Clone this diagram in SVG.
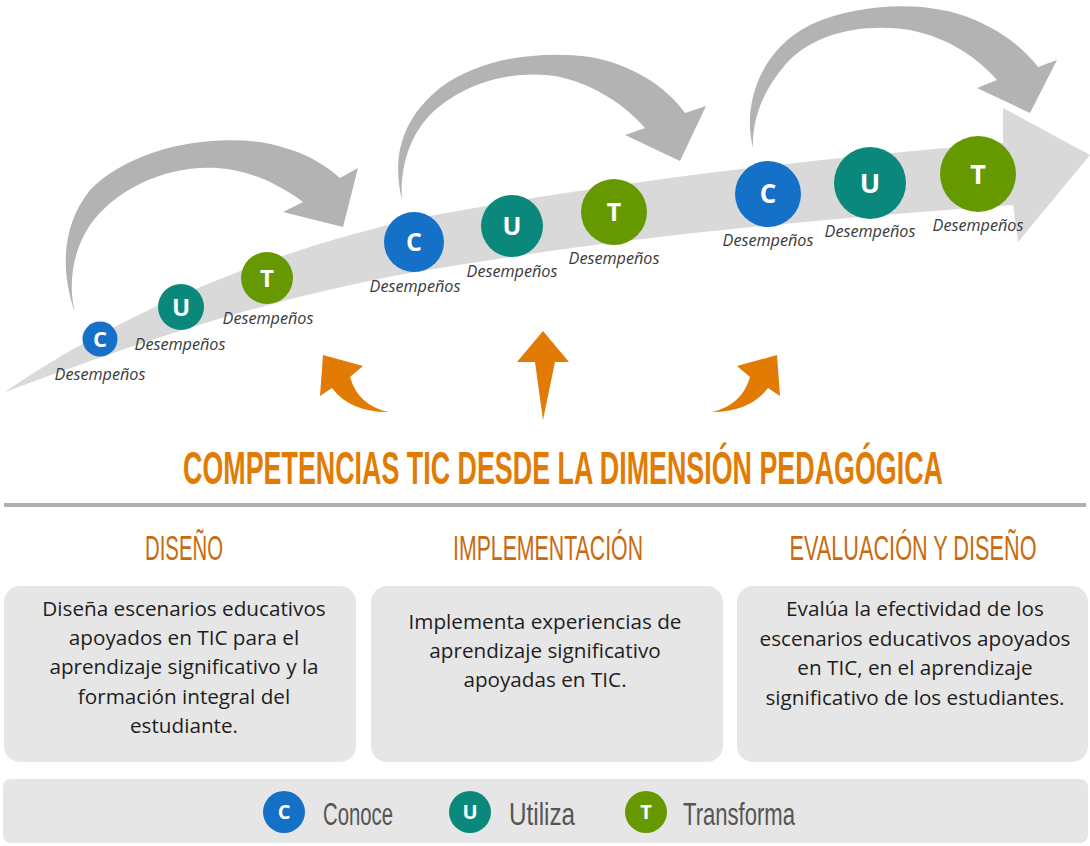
<svg xmlns="http://www.w3.org/2000/svg" width="1090" height="846" viewBox="0 0 1090 846">
<style>
.band{fill:#d9d9d9}
.garrow{fill:#b3b3b3}
.oarrow{fill:#e27b03}
.cC{fill:#1570c8}
.cU{fill:#0a887c}
.cT{fill:#669900}
.lt{font-family:"Open Sans","Liberation Sans",sans-serif;font-weight:bold;fill:#fff;text-anchor:middle}
.des{font-family:"Open Sans","Liberation Sans",sans-serif;font-style:italic;font-size:16.2px;fill:#3a3a3a;text-anchor:middle}
.title{font-family:"Liberation Sans Narrow","Liberation Sans",sans-serif;font-weight:bold;font-size:47px;fill:#e27b03}
.head{font-family:"Liberation Sans Narrow","Liberation Sans",sans-serif;font-size:35px;fill:#c96a10;text-anchor:middle}
.box{fill:#e6e6e6}
.bt{font-family:"Open Sans","Liberation Sans",sans-serif;font-size:20.7px;fill:#1e1e1e;text-anchor:middle}
.leg{font-family:"Liberation Sans Narrow","Liberation Sans",sans-serif;font-size:31px;fill:#555}
</style>
<rect width="1090" height="846" fill="#fff"/>
<g id="connectors">
<path id="band" class="band" d="M5,392 C120,312 280,247 420,218 C600,183 800,160 1003,143 L1003,108 L1090,155 L1018,242 L1013,205 C800,220 600,240 410,273 C250,302 120,350 5,392 Z"/>
<path id="curve1" class="garrow" d="M75,313 C60,270 62,225 90,190 C130,150 200,135 260,142 C295,148 320,160 340,178 L358,168 L343,227 L283,212 L303,202 C280,185 250,170 217,168 C165,165 115,190 90,225 C72,252 68,285 75,313 Z"/>
<path id="curve2" class="garrow" d="M402,200 C392,160 400,120 440,88 C480,58 540,50 590,57 C630,64 665,85 685,113 L706,106 L680,161 L625,135 L645,128 C625,105 595,85 560,77 C510,68 460,85 430,115 C408,138 400,170 402,200 Z"/>
<path id="curve3" class="garrow" d="M753,148 C742,105 760,50 810,25 C860,2 930,0 975,20 C1005,33 1025,50 1038,67 L1057,60 L1030,113 L977,88 L997,80 C980,60 950,38 910,30 C860,22 810,35 785,65 C762,92 752,120 753,148 Z"/>
<path id="oarrow-left" class="oarrow" d="M323,355 L363,366 L350,377 Q358,405 388,412 Q350,412 332,388 L320,396 Z"/>
<path id="oarrow-mid" class="oarrow" d="M543,331 L569,362 L555,362 L543,420 L535,362 L517,362 Z"/>
<path id="oarrow-right" class="oarrow" d="M777,355 L737,366 L750,377 Q742,405 712,412 Q750,412 768,388 L780,396 Z"/>
</g>
<g id="g1-C"><circle class="cC" cx="100" cy="339" r="17.5"/><text class="lt" x="100" y="347" font-size="22">C</text><text class="des" x="100" y="380">Desempeños</text></g>
<g id="g1-U"><circle class="cU" cx="181" cy="307" r="23"/><text class="lt" x="181" y="315.5" font-size="24">U</text><text class="des" x="180" y="350">Desempeños</text></g>
<g id="g1-T"><circle class="cT" cx="267" cy="278" r="26"/><text class="lt" x="267" y="286.5" font-size="24">T</text><text class="des" x="268" y="324">Desempeños</text></g>
<g id="g2-C"><circle class="cC" cx="414" cy="242" r="30"/><text class="lt" x="414" y="251" font-size="25">C</text><text class="des" x="415" y="292">Desempeños</text></g>
<g id="g2-U"><circle class="cU" cx="512" cy="226" r="31"/><text class="lt" x="512" y="235" font-size="25">U</text><text class="des" x="512" y="277">Desempeños</text></g>
<g id="g2-T"><circle class="cT" cx="614" cy="212" r="33"/><text class="lt" x="614" y="221" font-size="25">T</text><text class="des" x="614" y="264">Desempeños</text></g>
<g id="g3-C"><circle class="cC" cx="768" cy="194" r="33"/><text class="lt" x="768" y="203" font-size="26">C</text><text class="des" x="768" y="246">Desempeños</text></g>
<g id="g3-U"><circle class="cU" cx="870" cy="183" r="36"/><text class="lt" x="870" y="192.5" font-size="27">U</text><text class="des" x="870" y="237">Desempeños</text></g>
<g id="g3-T"><circle class="cT" cx="978" cy="174" r="38"/><text class="lt" x="978" y="183.5" font-size="27">T</text><text class="des" x="978" y="231">Desempeños</text></g>
<g id="title"><text class="title" x="183" y="484" textLength="760" lengthAdjust="spacingAndGlyphs">COMPETENCIAS TIC DESDE LA DIMENSIÓN PEDAGÓGICA</text>
<rect x="4" y="503" width="1082" height="4" fill="#b0b0b0"/></g>
<g id="col-diseno">
<text class="head" x="184" y="560" textLength="78" lengthAdjust="spacingAndGlyphs">DISEÑO</text>
<rect class="box" x="4" y="586" width="352" height="176" rx="16"/>
<text class="bt" x="184" y="616">Diseña escenarios educativos</text>
<text class="bt" x="184" y="645">apoyados en TIC para el</text>
<text class="bt" x="184" y="674">aprendizaje significativo y la</text>
<text class="bt" x="184" y="704">formación integral del</text>
<text class="bt" x="184" y="733">estudiante.</text>
</g>
<g id="col-implementacion">
<text class="head" x="548" y="560" textLength="190" lengthAdjust="spacingAndGlyphs">IMPLEMENTACIÓN</text>
<rect class="box" x="371" y="586" width="352" height="176" rx="16"/>
<text class="bt" x="545" y="629">Implementa experiencias de</text>
<text class="bt" x="545" y="658">aprendizaje significativo</text>
<text class="bt" x="545" y="687">apoyadas en TIC.</text>
</g>
<g id="col-evaluacion">
<text class="head" x="913" y="560" textLength="247" lengthAdjust="spacingAndGlyphs">EVALUACIÓN Y DISEÑO</text>
<rect class="box" x="737" y="586" width="351" height="176" rx="16"/>
<text class="bt" x="915" y="616">Evalúa la efectividad de los</text>
<text class="bt" x="915" y="646">escenarios educativos apoyados</text>
<text class="bt" x="915" y="675">en TIC, en el aprendizaje</text>
<text class="bt" x="915" y="705">significativo de los estudiantes.</text>
</g>
<g id="legend">
<rect class="box" x="3" y="779" width="1085" height="64" rx="8"/>
<circle class="cC" cx="284" cy="812" r="21"/><text class="lt" x="284" y="819" font-size="20">C</text>
<text class="leg" x="323" y="825" textLength="70" lengthAdjust="spacingAndGlyphs">Conoce</text>
<circle class="cU" cx="470" cy="812" r="21"/><text class="lt" x="470" y="819" font-size="20">U</text>
<text class="leg" x="509" y="825" textLength="66" lengthAdjust="spacingAndGlyphs">Utiliza</text>
<circle class="cT" cx="646" cy="812" r="21"/><text class="lt" x="646" y="819" font-size="20">T</text>
<text class="leg" x="683" y="825" textLength="112" lengthAdjust="spacingAndGlyphs">Transforma</text>
</g>
</svg>
